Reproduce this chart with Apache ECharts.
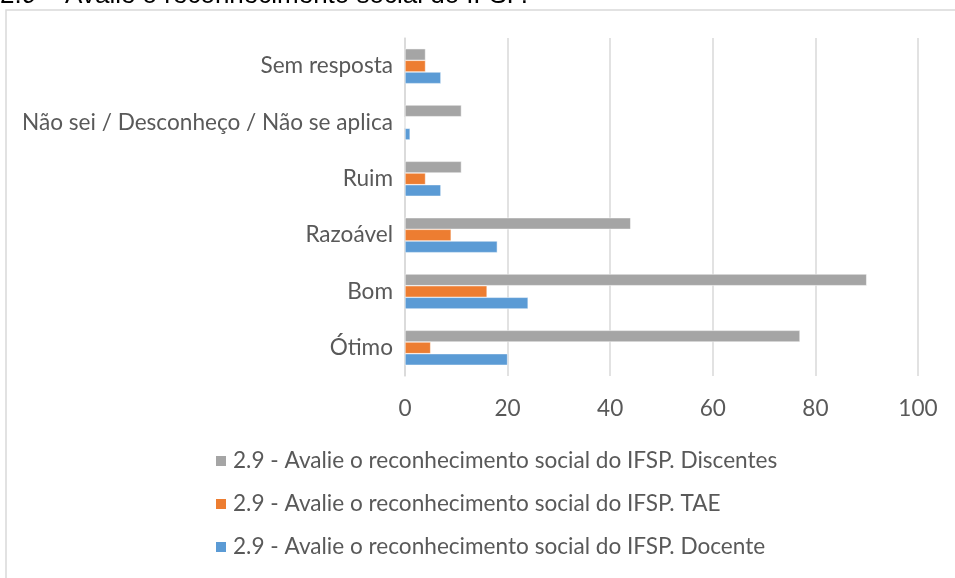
<!DOCTYPE html>
<html>
<head>
<meta charset="utf-8">
<script src="https://cdn.jsdelivr.net/npm/echarts@6/dist/echarts.min.js"></script>
<style>html,body{margin:0;padding:0;background:#fff;}#c{width:955px;height:578px;}</style>
</head>
<body>
<div id="c"></div>
<script>
const categories = ['Ótimo', 'Bom', 'Razoável', 'Ruim', 'Não sei / Desconheço / Não se aplica', 'Sem resposta'];
const discentes = [77, 90, 44, 11, 11, 4];
const tae = [5, 16, 9, 4, 0, 4];
const docente = [20, 24, 18, 7, 1, 7];
const seriesNames = [
  '2.9 - Avalie o reconhecimento social do IFSP. Discentes',
  '2.9 - Avalie o reconhecimento social do IFSP. TAE',
  '2.9 - Avalie o reconhecimento social do IFSP. Docente'
];
const xTicks = [0, 20, 40, 60, 80, 100];

const FONT = 'Lato';
const FS = 22.6;
const chart = echarts.init(document.getElementById('c'), null, {renderer: 'canvas'});
const barCommon = {type: 'bar', barGap: '0%', barCategoryGap: '38%'};
chart.setOption({
  animation: false,
  backgroundColor: '#fff',
  textStyle: {fontFamily: FONT},
  title: {
    text: '2.9 – Avalie o reconhecimento social do IFSP.',
    left: 0, top: -17, padding: 0,
    textStyle: {fontFamily: 'Liberation Sans', fontSize: 26, fontWeight: 'normal', color: '#000'}
  },
  graphic: [{
    type: 'rect', z: -1,
    shape: {x: 6, y: 10, width: 1000, height: 600},
    style: {fill: 'none', stroke: '#d9d9d9', lineWidth: 1.5}
  }],
  legend: {
    orient: 'vertical', left: 214, top: 449, padding: 0,
    itemWidth: 12, itemHeight: 12, itemGap: 19,
    icon: 'rect',
    data: seriesNames,
    textStyle: {fontFamily: FONT, fontSize: FS, lineHeight: 24, color: '#595959', padding: [0, 0, 0, 1]}
  },
  grid: {left: 405, right: 37, top: 38, bottom: 202, containLabel: false},
  xAxis: {
    type: 'value', min: 0, max: 100, interval: 20,
    axisLine: {show: false}, axisTick: {show: false},
    splitLine: {lineStyle: {color: '#d9d9d9', width: 1.5}},
    axisLabel: {fontFamily: FONT, fontSize: FS, color: '#595959', margin: 21,
      formatter: v => xTicks.includes(v) ? String(v) : ''}
  },
  yAxis: {
    type: 'category', data: categories,
    axisLine: {show: true, lineStyle: {color: '#d9d9d9', width: 1.5}},
    axisTick: {show: false},
    axisLabel: {fontFamily: FONT, fontSize: FS, color: '#595959', margin: 12}
  },
  series: [
    Object.assign({name: seriesNames[0], data: discentes,
      itemStyle: {color: '#a5a5a5', borderColor: '#fff', borderWidth: 0.5}}, barCommon),
    Object.assign({name: seriesNames[1], data: tae,
      itemStyle: {color: '#ed7d31', borderColor: '#fff', borderWidth: 0.5}}, barCommon),
    Object.assign({name: seriesNames[2], data: docente,
      itemStyle: {color: '#5b9bd5', borderColor: '#fff', borderWidth: 0.5}}, barCommon)
  ]
});
</script>
</body>
</html>
